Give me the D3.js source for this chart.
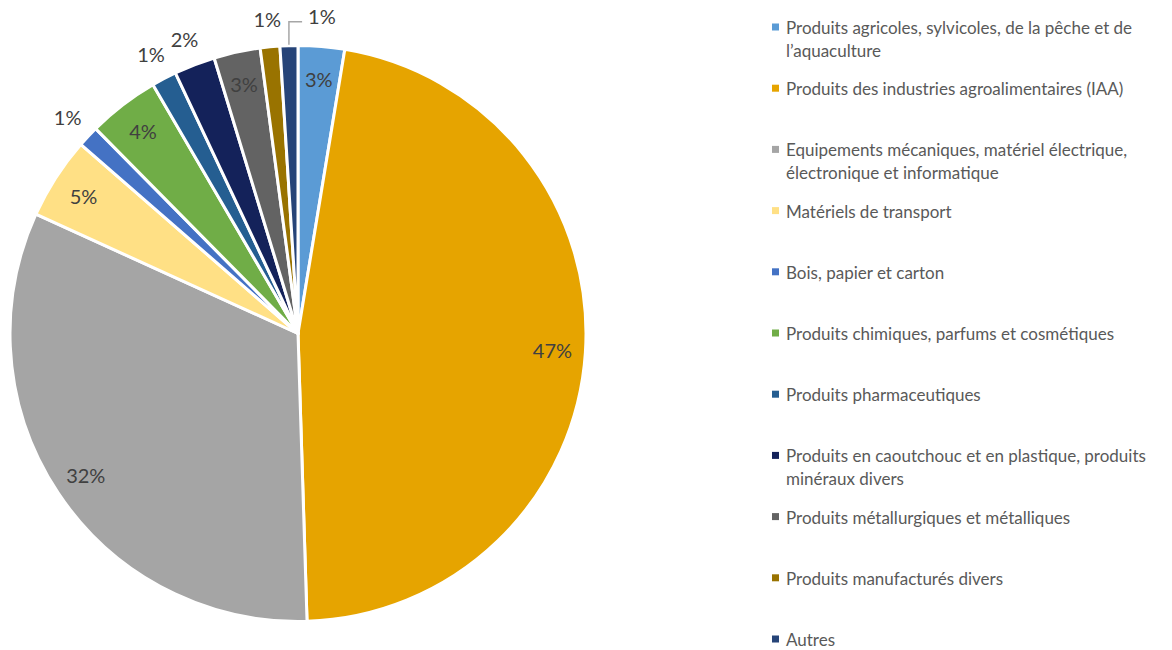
<!DOCTYPE html>
<html>
<head>
<meta charset="utf-8">
<script src="https://cdn.jsdelivr.net/npm/d3@7"></script>
<style>
  html, body { margin: 0; padding: 0; background: #fff; }
  svg { display: block; }
</style>
</head>
<body>
<svg id="chart" width="1172" height="650"></svg>
<script>
const categories = [
  "Produits agricoles, sylvicoles, de la pêche et de l’aquaculture",
  "Produits des industries agroalimentaires (IAA)",
  "Equipements mécaniques, matériel électrique, électronique et informatique",
  "Matériels de transport",
  "Bois, papier et carton",
  "Produits chimiques, parfums et cosmétiques",
  "Produits pharmaceutiques",
  "Produits en caoutchouc et en plastique, produits minéraux divers",
  "Produits métallurgiques et métalliques",
  "Produits manufacturés divers",
  "Autres"
];
const values = [2.6, 46.9, 32.3, 4.6, 1.2, 4.0, 1.4, 2.3, 2.6, 1.1, 1.0];
const colors = ["#5B9BD5", "#E6A400", "#A5A5A5", "#FFE085", "#4472C4", "#70AD47",
                "#255E91", "#14225A", "#636363", "#997300", "#264478"];

const svg = d3.select("#chart");
const cx = 298, cy = 333.5, R = 288;
const font = "Lato, 'Open Sans', sans-serif";

const pie = d3.pie().sort(null).value(d => d.v).startAngle(0).endAngle(2 * Math.PI);
const data = categories.map((c, i) => ({ c, v: values[i], i }));
const arcs = pie(data);
const arc = d3.arc().innerRadius(0).outerRadius(R);

const g = svg.append("g").attr("transform", `translate(${cx},${cy})`);
g.selectAll("path.slice").data(arcs).join("path")
  .attr("class", "slice")
  .attr("d", arc)
  .attr("fill", d => colors[d.data.i])
  .attr("stroke", "#fff")
  .attr("stroke-width", 3)
  .attr("stroke-linejoin", "round");

// labels
const total = d3.sum(values);
const pct = v => Math.round(v / total * 100) + "%";
const inR = 255, outR = 316;
const labelG = g.append("g");
let prevOut = null;
arcs.forEach((a, k) => {
  const mid = (a.startAngle + a.endAngle) / 2;
  const frac = a.data.v / total;
  const inside = frac >= 0.02 && !(a.data.i === 7);
  const r = inside ? inR : outR;
  let x = Math.sin(mid) * r, y = -Math.cos(mid) * r;
  const t = labelG.append("text")
    .attr("x", x).attr("y", y)
    .attr("text-anchor", "middle")
    .attr("dominant-baseline", "central")
    .attr("font-family", font)
    .attr("font-size", 20)
    .attr("fill", "#404040")
    .text(pct(a.data.v));
  if (!inside) {
    const w = t.node().getComputedTextLength();
    if (prevOut && x - w / 2 < prevOut.right + 4 && Math.abs(y - prevOut.y) < 22) {
      const ax = Math.sin(mid) * (R + 1), ay = -Math.cos(mid) * (R + 1);
      const nx = prevOut.right + 27 + w / 2;
      const ny = y - 2;
      t.attr("x", nx).attr("y", ny);
      labelG.insert("path", "text")
        .attr("d", `M${ax},${ay}V${ny + 6}H${nx - w / 2 - 6}`)
        .attr("fill", "none").attr("stroke", "#A6A6A6").attr("stroke-width", 1.5);
      x = nx; y = ny;
    }
    prevOut = { right: x + w / 2, y };
  }
});

// legend
const legX = 772, legY0 = 27, legStep = 61.2, lineH = 23, maxW = 372;
const leg = svg.append("g");
categories.forEach((c, i) => {
  const y = legY0 + i * legStep;
  leg.append("rect").attr("x", legX).attr("y", y - 3.5).attr("width", 7).attr("height", 7)
    .attr("fill", colors[i]);
  const t = leg.append("text")
    .attr("x", legX + 14).attr("y", y)
    .attr("dominant-baseline", "central")
    .attr("font-family", font).attr("font-size", 17).attr("fill", "#595959");
  const words = c.split(" ");
  let line = [];
  let ts = t.append("tspan").attr("x", legX + 14).attr("dy", 0);
  words.forEach(w => {
    line.push(w);
    ts.text(line.join(" "));
    if (ts.node().getComputedTextLength() > maxW && line.length > 1) {
      line.pop();
      ts.text(line.join(" "));
      line = [w];
      ts = t.append("tspan").attr("x", legX + 14).attr("dy", lineH).text(w);
    }
  });
});
</script>
</body>
</html>
